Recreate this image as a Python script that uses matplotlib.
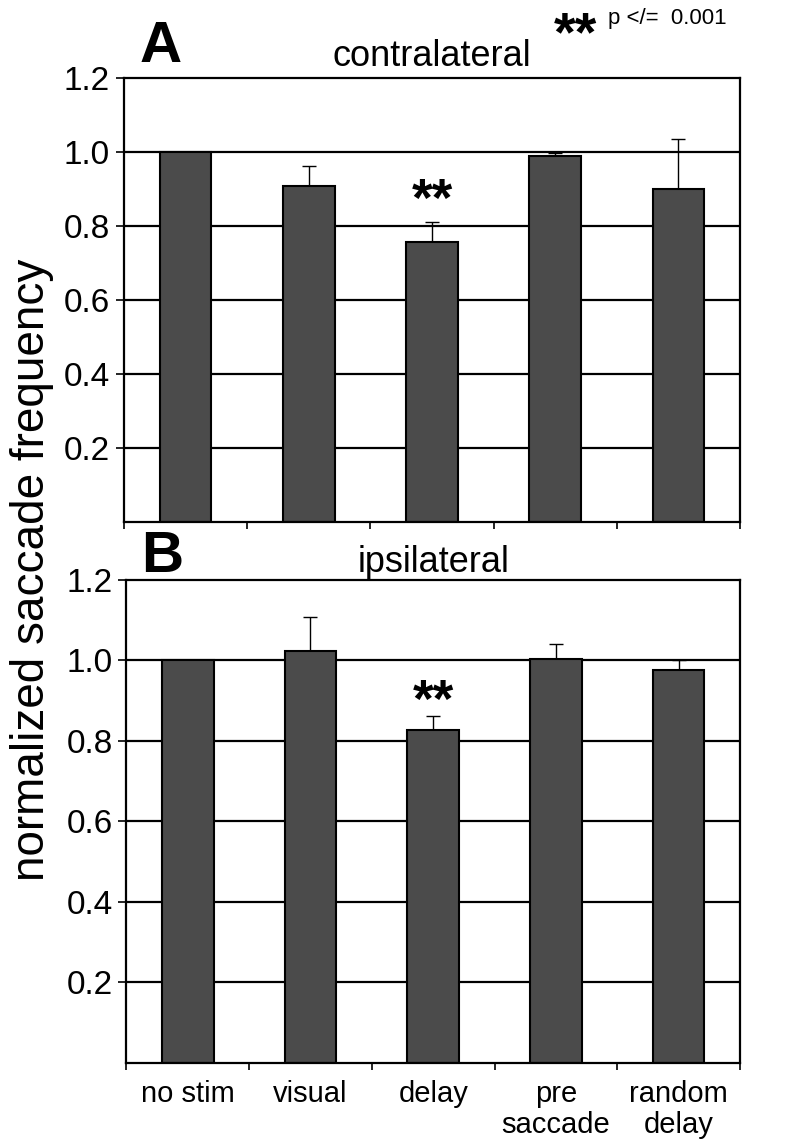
import matplotlib
matplotlib.use("Agg")
import matplotlib.pyplot as plt
import numpy as np

plt.rcParams['font.family'] = ['Liberation Sans', 'DejaVu Sans']

categories = ["no stim", "visual", "delay", "pre\nsaccade", "random\ndelay"]
contra_vals = [1.0, 0.908, 0.755, 0.988, 0.898]
contra_err = [0.0, 0.054, 0.055, 0.007, 0.137]
ipsi_vals = [1.0, 1.023, 0.828, 1.003, 0.977]
ipsi_err = [0.0, 0.084, 0.033, 0.037, 0.023]
yticks = [0.2, 0.4, 0.6, 0.8, 1.0, 1.2]
ytick_labels = ["0.2", "0.4", "0.6", "0.8", "1.0", "1.2"]

fig = plt.figure(figsize=(8, 11.4), dpi=100)
axA = fig.add_axes([0.155, 0.542, 0.770, 0.390])
axB = fig.add_axes([0.158, 0.0675, 0.767, 0.424])

x = np.arange(len(categories))
bar_color = "#4b4b4b"

def draw(ax, vals, errs, star_idx, star_y, show_xlabels):
    for y in yticks[:-1]:
        ax.axhline(y, color="black", lw=1.6, zorder=1)
    ax.bar(x, vals, width=0.42, color=bar_color, edgecolor="black", lw=1.5, zorder=2)
    ax.errorbar(x, vals, yerr=[np.zeros(len(errs)), errs], fmt="none",
                ecolor="black", elinewidth=1.0, capsize=5, capthick=1.0, zorder=1.5)
    ax.set_xlim(-0.5, len(categories) - 0.5)
    ax.set_ylim(0, 1.2)
    ax.set_yticks(yticks)
    ax.set_yticklabels(ytick_labels, fontsize=24)
    ax.tick_params(axis="y", length=6, width=1.2, direction="out", pad=4)
    ax.set_xticks(np.arange(len(categories) + 1) - 0.5)
    ax.set_xticklabels([])
    ax.tick_params(axis="x", length=5, width=1.2, direction="out")
    if show_xlabels:
        ax.set_xticks(x, minor=True)
        ax.set_xticklabels(categories, minor=True, fontsize=21, linespacing=1.15)
        ax.tick_params(axis="x", which="minor", length=0, pad=12)
        for lbl in ax.get_xticklabels(minor=True):
            lbl.set_verticalalignment("top")
    for s in ax.spines.values():
        s.set_linewidth(1.6)
    ax.text(x[star_idx], star_y, "**", ha="center", va="center",
            fontsize=38, fontweight="bold")

draw(axA, contra_vals, contra_err, 2, 0.865, False)
draw(axB, ipsi_vals, ipsi_err, 2, 0.895, True)

axA.set_title("contralateral", fontsize=26, pad=8)
axB.set_title("ipsilateral", fontsize=26, pad=3)

fig.text(0.175, 0.935, "A", fontsize=42, fontweight="bold", ha="left", va="bottom")
fig.text(0.177, 0.488, "B", fontsize=42, fontweight="bold", ha="left", va="bottom")

fig.text(0.04, 0.5, "normalized saccade frequency", rotation=90, fontsize=33,
         ha="center", va="center")

fig.text(0.692, 0.968, "**", fontsize=40, fontweight="bold", ha="left", va="center")
fig.text(0.76, 0.984, "p </=  0.001", fontsize=16, ha="left", va="center")

fig.savefig("out.png", dpi=100)
